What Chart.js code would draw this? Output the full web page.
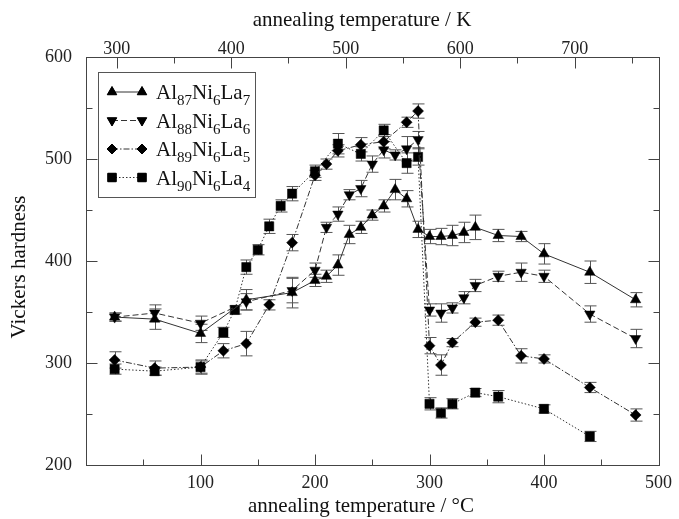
<!DOCTYPE html>
<html>
<head>
<meta charset="utf-8">
<script src="https://cdn.jsdelivr.net/npm/chart.js@4.4.1/dist/chart.umd.min.js"></script>
<style>
  body { margin: 0; background: #fff; }
  #wrap { width: 679px; height: 519px; }
</style>
</head>
<body>
<div id="wrap"><canvas id="hardness" width="679" height="519"></canvas></div>
<script>
// data (temperature in deg C, Vickers hardness, error)
const al87Temp = [25, 60, 100, 140, 180, 200, 210, 220, 230, 240, 250, 260, 270, 280, 290, 300, 310, 320, 330, 340, 360, 380, 400, 440, 480];
const al87Hv   = [345, 343, 329, 362, 369, 381, 385, 396, 426, 433, 445, 454, 470, 461, 431, 424, 424, 425, 428, 433, 425, 424, 407, 389, 362];
const al87Err  = [4, 10, 9, 10, 15, 6, 6, 10, 9, 6, 5, 6, 10, 8, 8, 7, 8, 10, 10, 12, 6, 5, 10, 11, 7];

const al88Temp = [25, 60, 100, 140, 180, 200, 210, 220, 230, 240, 250, 260, 270, 280, 290, 300, 310, 320, 330, 340, 360, 380, 400, 440, 480];
const al88Hv   = [345, 349, 339, 360, 371, 391, 433, 446, 465, 471, 495, 509, 504, 510, 519, 352, 349, 354, 364, 376, 385, 389, 385, 348, 324];
const al88Err  = [4, 8, 7, 8, 12, 7, 5, 7, 5, 8, 8, 8, 5, 12, 8, 6, 9, 5, 6, 6, 5, 9, 6, 8, 9];

const al89Temp = [25, 60, 100, 120, 140, 160, 180, 200, 210, 220, 240, 260, 280, 290, 300, 310, 320, 340, 360, 380, 400, 440, 480];
const al89Hv   = [303, 295, 296, 312, 319, 357, 418, 484, 495, 508, 514, 517, 536, 547, 317, 298, 320, 340, 342, 307, 304, 276, 249];
const al89Err  = [8, 7, 6, 7, 12, 5, 8, 5, 5, 6, 7, 7, 5, 7, 8, 10, 4, 4, 5, 7, 4, 5, 6];

const al90Temp = [25, 60, 100, 120, 130, 140, 150, 160, 170, 180, 200, 220, 240, 260, 280, 290, 300, 310, 320, 340, 360, 400, 440];
const al90Hv   = [294, 292, 296, 330, 352, 394, 411, 434, 454, 466, 488, 515, 505, 528, 496, 502, 260, 251, 260, 271, 267, 255, 228];
const al90Err  = [5, 4, 7, 5, 4, 7, 5, 7, 6, 7, 6, 10, 7, 6, 10, 8, 6, 5, 5, 4, 6, 4, 5];

// tick values
const yMajor = [200, 300, 400, 500, 600];
const yMinor = [250, 350, 450, 550];
const celsiusMajor = [100, 200, 300, 400];
const celsiusMinor = [50, 150, 250, 350, 450];
const kelvinMajor = [300, 400, 500, 600, 700];
const kelvinMinor = [350, 450, 550, 650, 750];

const serif = '"Liberation Serif", "DejaVu Serif", serif';
const lineColor = '#333';

function toPoints(xs, ys){
    return xs.map((x, i) => ({x: x, y: ys[i]}));
}

const series = [
    {name: ['Al', '87', 'Ni', '6', 'La', '7'], t: al87Temp, hv: al87Hv, err: al87Err, style: 'triangle', rot: 0, r: 6, dash: []},
    {name: ['Al', '88', 'Ni', '6', 'La', '6'], t: al88Temp, hv: al88Hv, err: al88Err, style: 'triangle', rot: 180, r: 6, dash: [6, 3]},
    {name: ['Al', '89', 'Ni', '6', 'La', '5'], t: al89Temp, hv: al89Hv, err: al89Err, style: 'rectRot', rot: 0, r: 5.5, dash: [6, 2, 1.5, 2]},
    {name: ['Al', '90', 'Ni', '6', 'La', '4'], t: al90Temp, hv: al90Hv, err: al90Err, style: 'rect', rot: 0, r: 6.5, dash: [1.5, 2]}
];

//error bars, drawn under the markers
const errorBars = {
    id: 'errorBars',
    beforeDatasetsDraw(chart){
        const ctx = chart.ctx;
        const xs = chart.scales.x, ys = chart.scales.y;
        ctx.save();
        ctx.strokeStyle = '#555';
        ctx.lineWidth = 1;
        series.forEach(s => {
            s.t.forEach((t, i) => {
                const px = Math.round(xs.getPixelForValue(t)) + 0.5;
                const top = ys.getPixelForValue(s.hv[i] + s.err[i]);
                const bot = ys.getPixelForValue(s.hv[i] - s.err[i]);
                ctx.beginPath();
                ctx.moveTo(px, top); ctx.lineTo(px, bot);
                ctx.moveTo(px - 6, top); ctx.lineTo(px + 6, top);
                ctx.moveTo(px - 6, bot); ctx.lineTo(px + 6, bot);
                ctx.stroke();
            });
        });
        ctx.restore();
    }
};

//frame, inward ticks, titles and the legend box
const frame = {
    id: 'frame',
    afterDraw(chart){
        const ctx = chart.ctx;
        const a = chart.chartArea;
        const xs = chart.scales.x, ys = chart.scales.y, ks = chart.scales.xTop;
        const L = Math.round(a.left) + 0.5, R = Math.round(a.right) + 0.5;
        const T = Math.round(a.top) + 0.5, B = Math.round(a.bottom) + 0.5;
        ctx.save();
        ctx.strokeStyle = '#444';
        ctx.lineWidth = 1;
        ctx.strokeRect(L, T, R - L, B - T);
        ctx.beginPath();
        function vtick(scale, v, y0, len){
            const px = Math.round(scale.getPixelForValue(v)) + 0.5;
            ctx.moveTo(px, y0); ctx.lineTo(px, y0 + len);
        }
        function htick(v, len){
            const py = Math.round(ys.getPixelForValue(v)) + 0.5;
            ctx.moveTo(L, py); ctx.lineTo(L + len, py);
            ctx.moveTo(R, py); ctx.lineTo(R - len, py);
        }
        celsiusMajor.forEach(v => vtick(xs, v, B, -11));
        celsiusMinor.forEach(v => vtick(xs, v, B, -6));
        kelvinMajor.forEach(v => vtick(ks, v, T, 11));
        kelvinMinor.forEach(v => vtick(ks, v, T, 6));
        yMajor.forEach(v => htick(v, 11));
        yMinor.forEach(v => htick(v, 6));
        ctx.stroke();

        // axis titles
        ctx.fillStyle = '#111';
        ctx.font = '21px ' + serif;
        ctx.textAlign = 'center';
        ctx.textBaseline = 'middle';
        ctx.fillText('annealing temperature / K', 362, 20);
        ctx.fillText('annealing temperature / \u00B0C', 361, 506);
        ctx.save();
        ctx.translate(19, 267);
        ctx.rotate(-Math.PI / 2);
        ctx.fillText('Vickers hardness', 0, 0);
        ctx.restore();

        // legend
        ctx.fillStyle = '#fff';
        ctx.fillRect(99, 73, 156, 124);
        ctx.strokeStyle = '#555';
        ctx.strokeRect(98.5, 72.5, 157, 125);
        const rows = [92, 120.5, 149, 177.5];
        series.forEach((s, i) => {
            const y = rows[i];
            ctx.save();
            ctx.strokeStyle = lineColor;
            ctx.setLineDash(s.dash);
            ctx.beginPath();
            ctx.moveTo(112, y); ctx.lineTo(142, y);
            ctx.stroke();
            ctx.restore();
            ctx.fillStyle = '#000';
            ctx.strokeStyle = '#000';
            [112, 142].forEach(x => {
                Chart.helpers.drawPoint(ctx, {pointStyle: s.style, rotation: s.rot, radius: s.r - 0.5, borderWidth: 1}, x, y);
                ctx.fill();
            });
            let x = 156;
            ctx.textAlign = 'left';
            ctx.textBaseline = 'alphabetic';
            ctx.fillStyle = '#111';
            s.name.forEach((part, j) => {
                const sub = j % 2 === 1;
                ctx.font = (sub ? '15px ' : '21px ') + serif;
                ctx.fillText(part, x, y + (sub ? 13 : 7));
                x += ctx.measureText(part).width;
            });
        });
        ctx.restore();
    }
};

const datasets = series.map(s => ({
    label: s.name.join(''),
    data: toPoints(s.t, s.hv),
    borderColor: lineColor,
    borderWidth: 1,
    borderDash: s.dash,
    pointStyle: s.style,
    rotation: s.rot,
    pointRadius: s.r,
    pointBackgroundColor: '#000',
    pointBorderColor: '#000',
    pointBorderWidth: 0.5,
    tension: 0,
    fill: false
}));

const tickFont = {family: serif, size: 18};

new Chart(document.getElementById('hardness'), {
    type: 'line',
    data: {datasets: datasets},
    options: {
        responsive: false,
        animation: false,
        events: [],
        layout: {padding: {left: 0, right: 11, top: 0, bottom: 0}},
        plugins: {legend: {display: false}, tooltip: {enabled: false}},
        scales: {
            x: {
                type: 'linear', position: 'bottom', min: 0, max: 500,
                grid: {display: false, drawTicks: false},
                border: {display: false},
                ticks: {stepSize: 100, font: tickFont, color: '#222', padding: 7,
                    callback: v => (v === 0 ? '' : v)},
                afterFit: s => { s.height = 54; }
            },
            xTop: {
                type: 'linear', position: 'top', min: 273.15, max: 773.15,
                grid: {display: false, drawTicks: false},
                border: {display: false},
                ticks: {font: tickFont, color: '#222', padding: -3},
                afterBuildTicks: s => { s.ticks = kelvinMajor.map(v => ({value: v})); },
                afterFit: s => { s.height = 57; }
            },
            y: {
                min: 200, max: 600,
                grid: {display: false, drawTicks: false},
                border: {display: false},
                ticks: {stepSize: 100, font: tickFont, color: '#222', padding: 14},
                afterFit: s => { s.width = 86; }
            }
        }
    },
    plugins: [errorBars, frame]
});
</script>
</body>
</html>
